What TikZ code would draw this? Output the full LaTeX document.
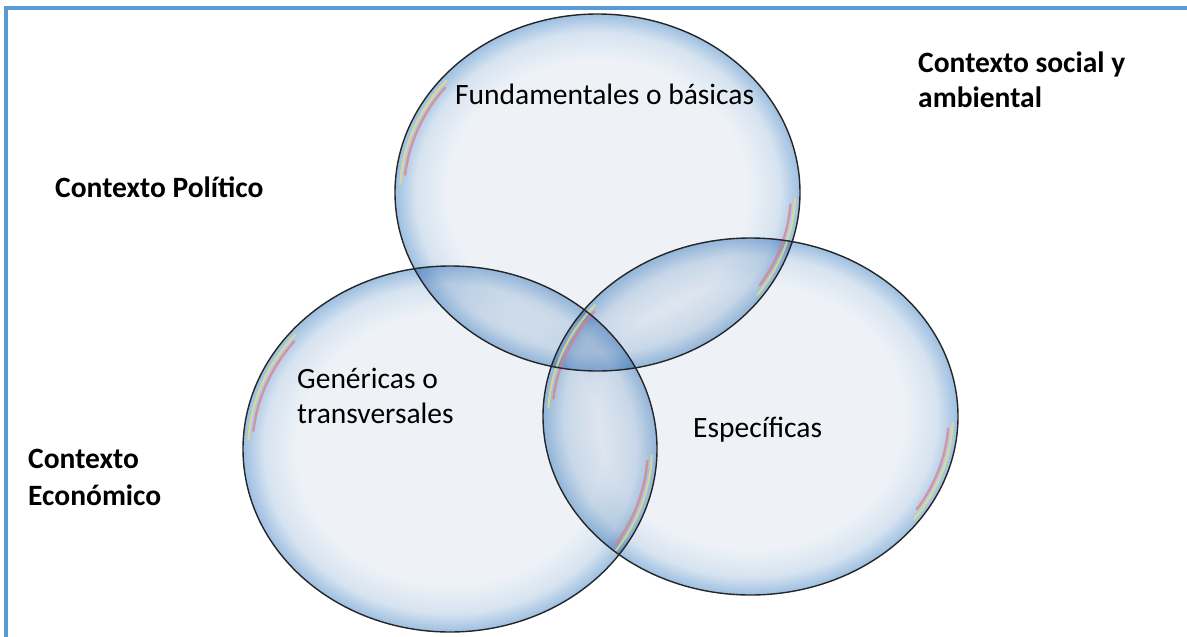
\documentclass[tikz,border=0pt]{standalone}
\usepackage{fontspec}
\setmainfont{Carlito}
\usetikzlibrary{shapes.geometric}
\definecolor{frameblue}{HTML}{5B9BD5}
\definecolor{bin}{HTML}{EEF2F7}
\definecolor{bmid}{HTML}{D6E3F0}
\definecolor{bout}{HTML}{9DBFE1}
\definecolor{streakpink}{HTML}{E07A8A}
\definecolor{streakyellow}{HTML}{E9E27A}
\pgfdeclareradialshading{bubble}{\pgfpoint{0bp}{0bp}}{color(0bp)=(bin); color(18.5bp)=(bin); color(22.5bp)=(bmid); color(25bp)=(bout); color(50bp)=(bout)}
\tikzset{
  bubblefill/.style={ellipse, inner sep=0pt, draw=none, shading=bubble, blend mode=multiply},
  bubblerim/.style={ellipse, inner sep=0pt, draw=black!85, line width=1.4pt},
  streakp/.style={draw=streakpink, line width=2.4pt, line cap=round, opacity=0.7},
  streaky/.style={draw=streakyellow, line width=2pt, line cap=round, opacity=0.75},
  lbl/.style={anchor=base west, inner sep=0pt, font=\fontsize{29.5}{35}\selectfont},
  ctx/.style={lbl, font=\fontsize{29.5}{35}\selectfont\bfseries},
  frame/.style={draw=frameblue, line width=4pt}
}
\begin{document}
\begin{tikzpicture}[x=1pt,y=-1pt]
\useasboundingbox (0,0) rectangle (1187,637);
\fill[white] (0,0) rectangle (1187,637);
% frame
\coordinate (fbl) at (6,637);
\coordinate (ftl) at (6,8);
\coordinate (ftr) at (1187,8);
\draw[frame] (fbl) -- (ftl) -- (ftr);
% bubbles (fills)
\node[bubblefill, minimum width=405pt, minimum height=357pt] (topf) at (597.5,192.5) {};
\node[bubblefill, minimum width=414pt, minimum height=366pt] (leftf) at (450,449) {};
\node[bubblefill, minimum width=415pt, minimum height=357pt] (rightf) at (750.5,416.5) {};
% streaks
\foreach \c/\rx/\ry in {topf/202.5/178.5, leftf/207/183, rightf/207.5/178.5}{
  \draw[streaky] ([shift={(\c.center)}] -140:{\rx*0.975} and {\ry*0.975}) arc[start angle=-140, end angle=-177, x radius={\rx*0.975}, y radius={\ry*0.975}];
  \draw[streakp] ([shift={(\c.center)}] -142:{\rx*0.955} and {\ry*0.955}) arc[start angle=-142, end angle=-174, x radius={\rx*0.955}, y radius={\ry*0.955}];
  \draw[streaky] ([shift={(\c.center)}] 2:{\rx*0.975} and {\ry*0.975}) arc[start angle=2, end angle=36, x radius={\rx*0.975}, y radius={\ry*0.975}];
  \draw[streakp] ([shift={(\c.center)}] 4:{\rx*0.955} and {\ry*0.955}) arc[start angle=4, end angle=33, x radius={\rx*0.955}, y radius={\ry*0.955}];
}
% rims
\node[bubblerim, minimum width=405pt, minimum height=357pt] (top) at (topf.center) {};
\node[bubblerim, minimum width=414pt, minimum height=366pt] (left) at (leftf.center) {};
\node[bubblerim, minimum width=415pt, minimum height=357pt] (right) at (rightf.center) {};
% labels
\node[lbl] (fund) at (455,104) {Fundamentales o básicas};
\node[lbl] (gen1) at (297,388) {Genéricas o};
\node[lbl] (gen2) at (297,423) {transversales};
\node[lbl] (esp) at (693,437) {Específicas};
\node[ctx] (soc1) at (918,72) {Contexto social y};
\node[ctx] (soc2) at (918,107) {ambiental};
\node[ctx] (pol) at (55,197) {Contexto Político};
\node[ctx] (eco1) at (28,468) {Contexto};
\node[ctx] (eco2) at (28,505) {Económico};
\end{tikzpicture}
\end{document}
